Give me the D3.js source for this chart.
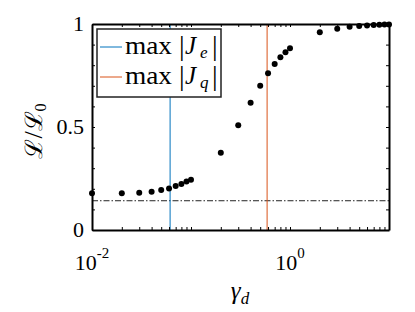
<!DOCTYPE html>
<html>
<head>
<meta charset="utf-8">
<script src="https://cdn.jsdelivr.net/npm/d3@7"></script>
<style>
  body { margin: 0; background: #fff; }
</style>
</head>
<body>
<script>
// data
const gammaD = [0.01, 0.02, 0.03, 0.04, 0.05, 0.06, 0.07, 0.08, 0.09, 0.1,
  0.2, 0.3, 0.4, 0.5, 0.6, 0.7, 0.8, 0.9, 1.0,
  2, 3, 4, 5, 6, 7, 8, 9, 10]
const ratio = [0.178, 0.178, 0.181, 0.186, 0.194, 0.202, 0.214, 0.223, 0.235, 0.244,
  0.375, 0.508, 0.618, 0.700, 0.761, 0.806, 0.838, 0.863, 0.882,
  0.960, 0.977, 0.987, 0.990, 0.993, 0.995, 0.996, 0.997, 0.998]
const maxJe = 0.0615
const maxJq = 0.587
const baseline = 0.142
const xLabelTicks = [0.01, 1]
const yLabelTicks = [0, 0.5, 1]

const W = 415, H = 312
const margin = { top: 24, right: 26, bottom: 82, left: 92 }
const serif = "'Liberation Serif', 'Times New Roman', serif"

const svg = d3.select('body').append('svg')
  .attr('width', W).attr('height', H)
  .style('font-family', serif)

let x = d3.scaleLog().domain([0.01, 10]).range([margin.left, W - margin.right])
let y = d3.scaleLinear().domain([0, 1]).range([H - margin.bottom, margin.top])

let xTicks = []
for (let e = -2; e < 1; e++) {
  for (let m = 1; m < 10; m++) xTicks.push(m * Math.pow(10, e))
}
xTicks.push(10)
let yTicks = d3.range(0, 11).map(d => d / 10)

// reference lines first, under the box
svg.append('line')
  .attr('x1', x.range()[0]).attr('x2', x.range()[1])
  .attr('y1', y(baseline)).attr('y2', y(baseline))
  .attr('stroke', '#222').attr('stroke-width', 1)
  .attr('stroke-dasharray', '6,2,1.5,2')

svg.append('line')
  .attr('x1', x(maxJe)).attr('x2', x(maxJe))
  .attr('y1', y(0)).attr('y2', y(1))
  .attr('stroke', '#0072BD').attr('stroke-width', 1)

svg.append('line')
  .attr('x1', x(maxJq)).attr('x2', x(maxJq))
  .attr('y1', y(0)).attr('y2', y(1))
  .attr('stroke', '#D95319').attr('stroke-width', 1)

// points
svg.append('g').selectAll('circle')
  .data(gammaD).enter()
  .append('circle')
  .attr('cx', d => x(d))
  .attr('cy', (d, i) => y(ratio[i]))
  .attr('r', 3)
  .attr('fill', '#000')

// axes: inward ticks on all four sides
const tick = 3
const axes = [
  [d3.axisBottom(x).tickValues(xTicks).tickSize(-tick), `translate(0,${y(0)})`],
  [d3.axisTop(x).tickValues(xTicks).tickSize(-tick), `translate(0,${y(1)})`],
  [d3.axisLeft(y).tickValues(yTicks).tickSize(-tick), `translate(${x.range()[0]},0)`],
  [d3.axisRight(y).tickValues(yTicks).tickSize(-tick), `translate(${x.range()[1]},0)`]
]
axes.forEach(([ax, tr]) => {
  let g = svg.append('g').attr('transform', tr)
    .call(ax.tickSizeOuter(0).tickFormat(''))
  g.select('.domain').attr('stroke', '#000').attr('stroke-width', 2)
  g.selectAll('.tick line').attr('stroke', '#000').attr('stroke-width', 1)
})

// tick labels
svg.append('g').selectAll('text')
  .data(yLabelTicks).enter()
  .append('text')
  .attr('x', x.range()[0] - 8)
  .attr('y', d => y(d) + 7)
  .attr('text-anchor', 'end')
  .attr('font-size', 22)
  .text(d => d)

let xl = svg.append('g').selectAll('text')
  .data(xLabelTicks).enter()
  .append('text')
  .attr('x', d => x(d))
  .attr('y', 270)
  .attr('text-anchor', 'middle')
  .attr('font-size', 22)
xl.append('tspan').text('10')
xl.append('tspan').attr('dy', -12).attr('font-size', 15)
  .text(d => {
    let p = Math.round(Math.log10(d))
    return p < 0 ? '-' + Math.abs(p) : p
  })

// axis titles
let xt = svg.append('text')
  .attr('x', 240).attr('y', 299)
  .attr('text-anchor', 'middle')
  .attr('font-size', 25)
xt.append('tspan').attr('font-style', 'italic').text('γ')
xt.append('tspan').attr('font-style', 'italic').attr('font-size', 17).attr('dy', 5).text('d')

let yt = svg.append('text')
  .attr('transform', 'translate(42,131) rotate(-90)')
  .attr('text-anchor', 'middle')
  .attr('font-size', 26)
yt.append('tspan').attr('font-size', 24).text('ℒ')
yt.append('tspan').text('/')
yt.append('tspan').attr('font-size', 24).text('ℒ')
yt.append('tspan').attr('font-size', 16).attr('dy', 4).text('0')

// legend
const legend = svg.append('g')
legend.append('rect')
  .attr('x', 97).attr('y', 29).attr('width', 124).attr('height', 68)
  .attr('fill', '#fff').attr('stroke', '#222').attr('stroke-width', 1.5)

const entries = [
  { sub: 'e', color: '#0072BD', cy: 47 },
  { sub: 'q', color: '#D95319', cy: 77 }
]
entries.forEach(e => {
  legend.append('line')
    .attr('x1', 100).attr('x2', 122)
    .attr('y1', e.cy).attr('y2', e.cy)
    .attr('stroke', e.color).attr('stroke-width', 1)
  let t = legend.append('text')
    .attr('y', e.cy + 6.5)
    .attr('font-size', 25)
  t.append('tspan').attr('x', 125)
    .attr('textLength', 47).attr('lengthAdjust', 'spacingAndGlyphs').text('max')
  t.append('tspan').attr('x', 179).attr('font-size', 28).attr('dy', 1).text('|')
  t.append('tspan').attr('x', 185).attr('dy', -1).attr('font-style', 'italic').text('J')
  t.append('tspan').attr('x', 200).attr('font-style', 'italic').attr('font-size', 17).attr('dy', 4).text(e.sub)
  t.append('tspan').attr('x', 212).attr('font-size', 28).attr('dy', -3).text('|')
})
</script>
</body>
</html>
